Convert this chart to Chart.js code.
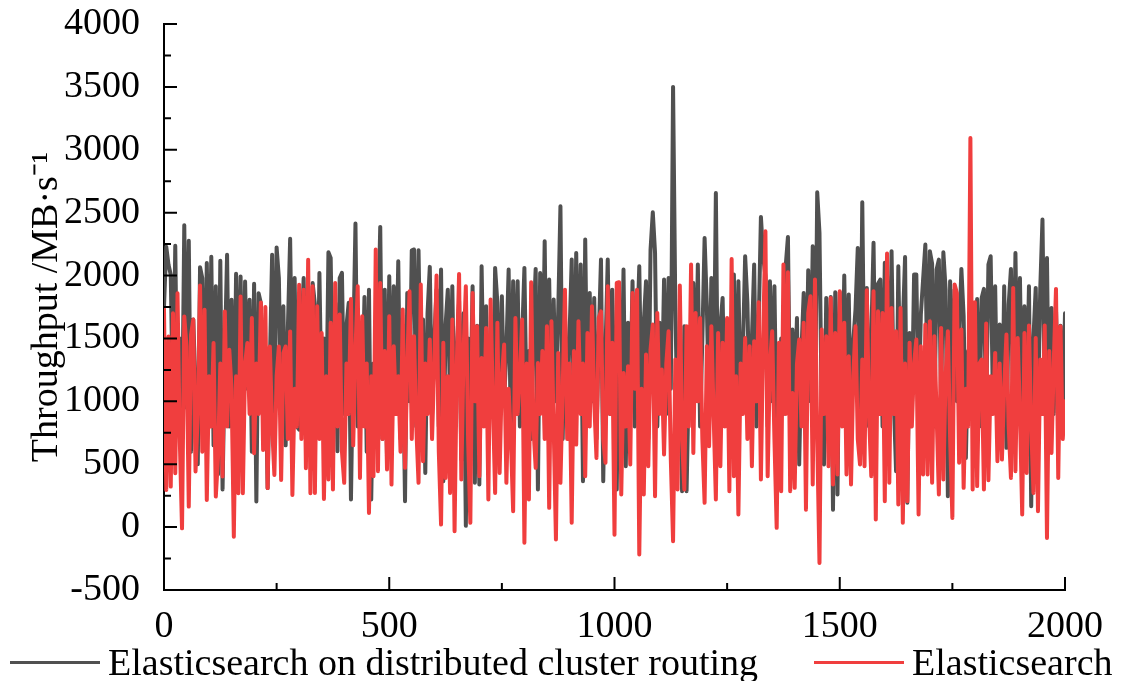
<!DOCTYPE html>
<html>
<head>
<meta charset="utf-8">
<script src="https://cdn.jsdelivr.net/npm/chart.js@4/dist/chart.umd.min.js"></script>
<style>
  html, body { margin: 0; padding: 0; background: #fff; }
  #wrap { width: 1121px; height: 681px; position: relative; }
  #legend {
    position: absolute; left: 10px; top: 640px;
    display: flex; gap: 56px;
    font: 38px 'Liberation Serif', 'Times New Roman', serif;
    line-height: 44px; white-space: nowrap; color: #000;
  }
  #legend .item { display: flex; align-items: center; }
  #legend .swatch { width: 90px; height: 3px; margin-right: 8px; }
</style>
</head>
<body>
<div id="wrap"><canvas id="chartThroughput"></canvas><div id="legend"></div></div>
<script>
// throughput samples, every 5 requests (0..2000)
const routedThroughput = [
  1750, 2230, 2086, 2006, 900, 2237, 800, 1500, 700, 2400,
  950, 2277, 600, 1650, 1100, 500, 2067, 1980, 750, 2100,
  1000, 2150, 650, 1915, 420, 2118, 300, 1356, 2165, 800,
  1808, 550, 2014, 900, 1993, 700, 1953, 1100, 1808, 600,
  1935, 203, 1860, 1780, 850, 1400, 310, 1300, 2165, 700,
  2224, 1980, 900, 1755, 650, 1582, 2293, 1000, 1980, 800,
  775, 1500, 1980, 900, 1700, 1000, 1940,
  1770, 722, 2021, 900, 1500, 800, 2185, 2140, 1000, 1783,
  603, 1980, 2021, 900, 1600, 1783, 219, 1400, 2413, 800,
  1500, 1000, 1830, 600, 1888, 219, 1300, 900, 1600, 2387,
  700, 1888, 563, 1995, 900, 1915, 1100, 2114, 700, 1500,
  206, 1862, 1000, 2201, 2207, 800, 2201, 1100, 1650, 431,
  1700, 2069, 900, 1500, 1888, 800, 2048, 365, 1600, 1888,
  1000, 1915, 800, 1400, 1797, 537, 1700,
  10, 1500, 900, 1915, 352, 1600, 339, 2074, 1000, 1756,
  700, 1500, 900, 2061, 1783, 800, 1836, 1000, 1400, 2048,
  700, 1955, 1000, 1955, 800, 1500, 2061, 900, 1400, 700,
  1600, 2053, 299, 2021, 1000, 2273, 800, 1968, 900, 1809,
  1000, 1703, 2551, 700, 1690, 900, 1500, 2127, 800, 2180,
  1000, 2087, 365, 2286, 900, 1862, 1000, 1822, 700, 1500,
  2127, 365, 1400, 2127, 900, 1888, 1000,
  299, 1700, 900, 2048, 484, 1624, 1000, 1955, 800, 1500,
  2074, 900, 1624, 1955, 700, 2207, 2503, 2180, 800, 1624,
  1000, 1968, 900, 1981, 1100, 3500, 1756, 800, 1400, 286,
  1597, 286, 1200, 900, 1941, 1000, 2087, 800, 1500, 2299,
  1756, 900, 1981, 1000, 2657, 800, 1600, 1822, 900, 1650,
  1000, 1500, 2008, 800, 1955, 1000, 1400, 2154, 1783, 900,
  1500, 2087, 800, 1600, 2466, 2154,
  1995, 800, 1955, 1000, 1915, 700, 590, 1500, 900, 2074,
  2307, 800, 1571, 1000, 1663, 498, 1400, 1862, 900, 2042,
  1000, 2233, 800, 2662, 2339, 900, 498, 1822, 1000, 1830,
  139, 1867, 259, 1867, 900, 2000, 1000, 1849, 700, 1478,
  1730, 2220, 800, 2583, 1000, 1902, 800, 1500, 2260, 900,
  1935, 1968, 800, 2101, 1995, 900, 2194, 1000, 445, 2074,
  900, 1600, 2148, 193, 1544, 900, 2008,
  2008, 900, 1690, 1968, 2246, 1000, 2194, 2095, 800, 2048,
  2127, 1000, 2185, 1888, 246, 1955, 900, 1888, 1000, 1500,
  2053, 1677, 550, 1400, 900, 1650, 1000, 1814, 800, 1822,
  1894, 900, 2087, 2154, 1000, 1915, 800, 1610, 669, 1915,
  630, 1770, 2053, 900, 2180, 1000, 1981, 800, 1756, 1000,
  1915, 166, 1500, 1902, 900, 1888, 2445, 1000, 2140, 617,
  1743, 900, 1730, 1000, 1600, 800, 1700
];

const plainThroughput = [
  1733, 296, 1516, 322, 1701, 428, 1860, 700, -10, 1675,
  1436, 163, 1530, 1650, 442, 900, 1920, 600, 1728, 216,
  1200, 800, 1463, 243, 560, 1300, 402, 1715, 800, 1410,
  1100, -76, 1200, 270, 1834, 270, 1300, 1463, 900, 1662,
  587, 1300, 900, 1786, 614, 1750, 310, 1436, 800, 415,
  1200, 1436, 375, 1383, 1436, 700, 1556, 256, 1100, 800,
  1927, 700, 1887, 468, 2126, 270, 1915,
  272, 1756, 700, 1544, 224, 1200, 378, 1624, 299, 1941,
  800, 1690, 600, 352, 1300, 900, 1814, 650, 1400, 1915,
  391, 1677, 800, 1300, 113, 1200, 405, 2207, 445, 1941,
  700, 1400, 458, 1677, 338, 1438, 900, 1200, 600, 1730,
  471, 1300, 1875, 700, 1517, 800, 352, 1928, 524, 1300,
  900, 1491, 700, 1300, 2000, 600, 20, 1465, 391, 1200,
  272, 1650, -33, 1300, 2013, 378, 1400,
  1915, 700, 34, 1862, 1000, 1597, 405, 1345, 800, 1584,
  219, 1809, 1000, 272, 1624, 431, 1200, 1451, 352, 1100,
  700, 126, 1663, 900, 1200, 1650, -125, 1300, 219, 1947,
  800, 471, 1305, 900, 1400, 700, 1597, 153, 1637, 800,
  -99, 1385, 352, 1100, 1888, 700, 1300, 34, 1400, 656,
  1637, 900, 1300, 405, 1544, 800, 1756, 1000, 550, 1663,
  1716, 700, 511, 1915, 900, 1465, -60,
  1941, 1947, 259, 1226, 800, 1279, 498, 1862, 1100, 1888,
  -218, 1100, 259, 1372, 484, 1412, 1610, 246, 1703, 900,
  1253, 577, 1300, 1557, 537, -112, 1332, 299, 1920, 700,
  299, 1597, 800, 2087, 590, 1703, 1000, 1663, 700, 193,
  1438, 643, 1597, 900, 219, 1544, 484, 1465, 800, 1663,
  286, 2132, 405, 1200, 100, 1300, 900, 1504, 700, 1438,
  484, 1478, 1000, 1788, 378, 1517,
  2352, 405, 1300, 1557, 700, -6, 1465, 286, 2087, 900,
  2026, 286, 1067, 312, 1300, 1491, 800, 1624, 139, 1703,
  1836, 339, 1968, 700, -285, 1571, 900, 1517, 484, 1822,
  339, 1544, 418, 1875, 800, 1624, 418, 1358, 339, 1200,
  1597, 700, 498, 1332, 484, 1883, 900, 405, 1875, 60,
  1716, 900, 1703, 206, 2175, 352, 1743, 900, 1557, 179,
  1743, 34, 1300, 206, 1465, 800, 1300,
  1491, 100, 1438, 418, 1610, 418, 1637, 352, 1517, 900,
  259, 1584, 378, 1200, 1557, 700, 73, 1928, 1862, 511,
  1571, 312, 1100, 800, 3094, 299, 1788, 326, 1300, 1332,
  299, 1618, 373, 1200, 900, 1385, 524, 1300, 537, 1100,
  1531, 800, 391, 1902, 445, 1504, 900, 100, 1544, 431,
  1602, 800, 272, 1504, 126, 1332, 900, 1602, -86, 1400,
  590, 1300, 1894, 391, 1597, 700, 1000
];

const sampleStep = 5;
const samples = routedThroughput.map((_, i) => i * sampleStep);

const xTickValues = [0, 500, 1000, 1500, 2000];
const yTickValues = [-500, 0, 500, 1000, 1500, 2000, 2500, 3000, 3500, 4000];

const seriesNames = ['Elasticsearch on distributed cluster routing', 'Elasticsearch'];
const yTitle = 'Throughput /MB\u00b7s\u207b\u00b9';

const GRAY = '#505050';
const RED = '#f03e3e';

Chart.defaults.font.family = "'Liberation Serif', 'Times New Roman', serif";
Chart.defaults.font.size = 38;
Chart.defaults.color = '#000';

// ticks point inward, with a minor tick between majors
const inwardTicks = {
  id: 'inwardTicks',
  afterDatasetsDraw(chart) {
    const { ctx, chartArea, scales: { x, y } } = chart;
    const mids = arr => arr.slice(1).map((v, i) => (v + arr[i]) / 2);
    ctx.save();
    ctx.strokeStyle = '#000';
    ctx.lineWidth = 2;
    ctx.beginPath();
    xTickValues.forEach(v => {
      const px = x.getPixelForValue(v);
      ctx.moveTo(px, chartArea.bottom); ctx.lineTo(px, chartArea.bottom - 13);
    });
    mids(xTickValues).forEach(v => {
      const px = x.getPixelForValue(v);
      ctx.moveTo(px, chartArea.bottom); ctx.lineTo(px, chartArea.bottom - 7);
    });
    yTickValues.forEach(v => {
      const py = y.getPixelForValue(v);
      ctx.moveTo(chartArea.left, py); ctx.lineTo(chartArea.left + 13, py);
    });
    mids(yTickValues).forEach(v => {
      const py = y.getPixelForValue(v);
      ctx.moveTo(chartArea.left, py); ctx.lineTo(chartArea.left + 7, py);
    });
    ctx.stroke();
    ctx.restore();
  }
};

// legend as html under the plot (gray series listed first)
const htmlLegend = {
  id: 'htmlLegend',
  afterUpdate(chart) {
    const box = document.getElementById('legend');
    box.innerHTML = '';
    const items = chart.options.plugins.legend.labels.generateLabels(chart)
      .sort((a, b) => b.datasetIndex - a.datasetIndex);
    items.forEach(item => {
      const el = document.createElement('div');
      el.className = 'item';
      const sw = document.createElement('span');
      sw.className = 'swatch';
      sw.style.background = item.strokeStyle;
      const txt = document.createElement('span');
      txt.textContent = item.text;
      el.appendChild(sw);
      el.appendChild(txt);
      box.appendChild(el);
    });
  }
};

const ctx = document.getElementById('chartThroughput').getContext('2d');
const chartThroughput = new Chart(ctx, {
  type: 'line',
  data: {
    labels: samples,
    datasets: [
      {
        label: seriesNames[1],
        data: plainThroughput,
        borderColor: RED,
        backgroundColor: RED,
        borderWidth: 4,
      },
      {
        label: seriesNames[0],
        data: routedThroughput,
        borderColor: GRAY,
        backgroundColor: GRAY,
        borderWidth: 4,
      }
    ]
  },
  options: {
    responsive: true,
    maintainAspectRatio: false,
    animation: false,
    layout: { padding: { top: 24, right: 0, bottom: 29, left: 0 } },
    elements: {
      point: { radius: 0, hoverRadius: 0 },
      line: { tension: 0, borderJoinStyle: 'round', borderCapStyle: 'round' }
    },
    plugins: {
      tooltip: { enabled: false },
      legend: { display: false }
    },
    scales: {
      x: {
        type: 'linear',
        min: 0,
        max: 2000,
        grid: { display: false },
        border: { display: true, color: '#000', width: 2 },
        afterBuildTicks: s => { s.ticks = xTickValues.map(v => ({ value: v })); },
        ticks: { padding: 6, maxRotation: 0, callback: v => String(v) },
        afterFit: s => { s.height = 62; }
      },
      y: {
        min: -500,
        max: 4000,
        grid: { display: false },
        border: { display: true, color: '#000', width: 2 },
        afterBuildTicks: s => { s.ticks = yTickValues.map(v => ({ value: v })); },
        ticks: { padding: 16, callback: v => String(v) },
        title: { display: true, text: yTitle, padding: { top: 24, bottom: 0 } },
        afterFit: s => { s.width = 164; s.paddingTop = 0; s.paddingBottom = 0; }
      },
      // empty right-hand strip so the plot ends where the reference does
      spacer: {
        position: 'right',
        min: 0,
        max: 1,
        grid: { display: false },
        border: { display: false },
        ticks: { display: false },
        afterFit: s => { s.width = 56; }
      }
    }
  },
  plugins: [inwardTicks, htmlLegend]
});
</script>
</body>
</html>
